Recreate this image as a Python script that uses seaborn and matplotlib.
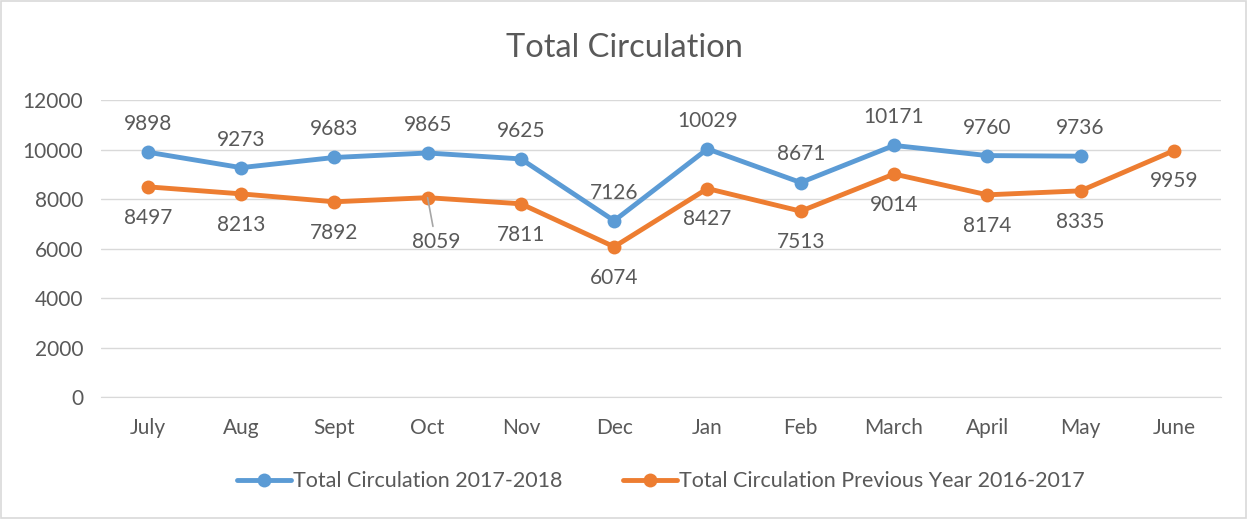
import numpy as np
import pandas as pd
import seaborn as sns
import matplotlib.pyplot as plt

months = ['July', 'Aug', 'Sept', 'Oct', 'Nov', 'Dec', 'Jan', 'Feb', 'March', 'April', 'May', 'June']
current = [9898, 9273, 9683, 9865, 9625, 7126, 10029, 8671, 10171, 9760, 9736, np.nan]
previous = [8497, 8213, 7892, 8059, 7811, 6074, 8427, 7513, 9014, 8174, 8335, 9959]
name_cur = 'Total Circulation 2017-2018'
name_prev = 'Total Circulation Previous Year 2016-2017'

blue = '#5B9BD5'
orange = '#ED7D31'
txt = '#595959'

sns.set_style('white')
plt.rcParams['font.family'] = ['Lato', 'DejaVu Sans']
fs = 15

df = pd.DataFrame({'month': months * 2,
                   'value': current + previous,
                   'series': [name_cur] * 12 + [name_prev] * 12})
df['x'] = list(range(12)) * 2

fig = plt.figure(figsize=(12.48, 5.19), dpi=100)
ax = fig.add_axes([0.081, 0.235, 0.897, 0.572])

sns.lineplot(data=df, x='x', y='value', hue='series', palette=[blue, orange],
             marker='o', markersize=10, markeredgewidth=0, linewidth=3.5,
             ax=ax, legend=True)

ax.set_xlim(-0.5, 11.5)
ax.set_ylim(0, 12000)
ax.set_yticks(range(0, 12001, 2000))
ax.set_xticks(range(12))
ax.set_xticklabels(months)
ax.yaxis.grid(True, color='#D9D9D9', linewidth=1)
ax.set_axisbelow(True)
for s in ['top', 'right', 'left']:
    ax.spines[s].set_visible(False)
ax.spines['bottom'].set_color('#D9D9D9')
ax.tick_params(axis='both', colors=txt, labelsize=fs, length=0)
ax.tick_params(axis='x', pad=15)
ax.tick_params(axis='y', pad=13)
ax.set_xlabel('')
ax.set_ylabel('')

# data labels
for i, v in enumerate(current):
    if not np.isnan(v):
        ax.annotate(f'{int(v)}', (i, v), xytext=(0, 13), textcoords='offset points',
                    ha='center', va='bottom', fontsize=fs, color=txt)
for i, v in enumerate(previous):
    if months[i] == 'Oct':
        ax.annotate(f'{int(v)}', (i, v), xytext=(6, -25), textcoords='offset points',
                    ha='center', va='top', fontsize=fs, color=txt,
                    arrowprops=dict(arrowstyle='-', color='#A6A6A6', lw=1.2,
                                    shrinkA=2, shrinkB=0))
    else:
        ax.annotate(f'{int(v)}', (i, v), xytext=(0, -15), textcoords='offset points',
                    ha='center', va='top', fontsize=fs, color=txt)

fig.text(0.5, 0.907, 'Total Circulation', ha='center', va='center', fontsize=23.5, color=txt)

handles, labels = ax.get_legend_handles_labels()
ax.legend(handles, labels, loc='center', bbox_to_anchor=(0.5, -0.283), ncol=2, frameon=False,
          fontsize=15.5, labelcolor=txt, handlelength=2.5, handletextpad=0.1, columnspacing=2.8)

fig.patches.append(plt.Rectangle((0.001, 0.002), 0.997, 0.996, transform=fig.transFigure,
                                 fill=False, edgecolor='#D9D9D9', linewidth=1.2))

fig.savefig('out.png', dpi=100, facecolor='white')
